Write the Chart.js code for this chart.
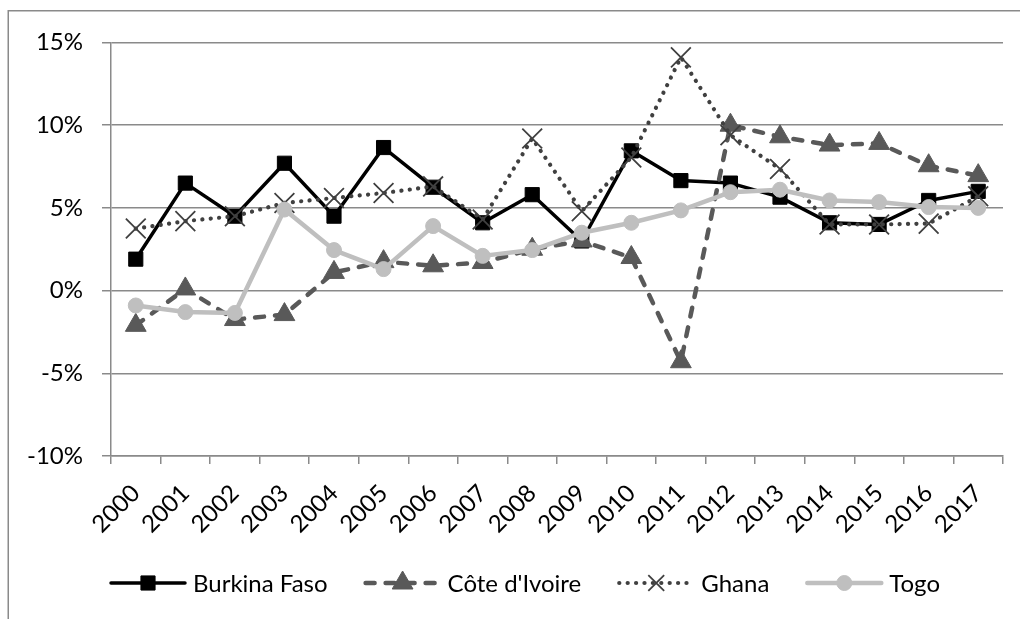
<!DOCTYPE html>
<html><head><meta charset="utf-8">
<script src="https://cdn.jsdelivr.net/npm/chart.js@4/dist/chart.umd.min.js"></script>
<style>html,body{margin:0;padding:0;background:#fff;overflow:hidden}canvas{display:block}</style>
</head><body>
<canvas id="c" width="1020" height="619"></canvas>
<script>
const categories = ['2000','2001','2002','2003','2004','2005','2006','2007','2008','2009','2010','2011','2012','2013','2014','2015','2016','2017'];
const burkinaFaso = [1.9,6.5,4.5,7.7,4.5,8.65,6.25,4.1,5.8,3.0,8.45,6.65,6.5,5.65,4.1,4.0,5.45,6.0];
const coteDIvoire = [-2.1,0.1,-1.75,-1.45,1.1,1.75,1.5,1.7,2.5,3.0,2.0,-4.3,10.0,9.3,8.8,8.9,7.55,6.95];
const ghana = [3.75,4.2,4.5,5.3,5.6,5.9,6.3,4.3,9.2,4.8,8.05,14.1,9.4,7.35,4.0,4.0,4.05,5.7];
const togo = [-0.9,-1.3,-1.35,4.9,2.45,1.3,3.9,2.1,2.45,3.5,4.1,4.85,5.95,6.1,5.45,5.35,5.05,5.0];
const yTicks = [-10,-5,0,5,10,15];
const seriesNames = ['Burkina Faso', "Côte d'Ivoire", 'Ghana', 'Togo'];

const FONT = 'Lato, "Open Sans", sans-serif';
const GRID = '#8a8a8a';

function drawMarker(ctx, ds, x, y) {
  const r = ds.pointRadius;
  ctx.save();
  ctx.fillStyle = ds.pointBackgroundColor;
  ctx.strokeStyle = ds.pointBorderColor;
  ctx.lineWidth = ds.pointBorderWidth;
  ctx.setLineDash([]);
  ctx.lineCap = 'butt';
  ctx.beginPath();
  if (ds.pointStyle === 'rect') {
    const s = Math.SQRT1_2 * r;
    ctx.rect(x - s, y - s, 2 * s, 2 * s);
    ctx.fill(); ctx.stroke();
  } else if (ds.pointStyle === 'triangle') {
    let a = 0;
    ctx.moveTo(x + Math.sin(a) * r, y - Math.cos(a) * r);
    a += 2 * Math.PI / 3;
    ctx.lineTo(x + Math.sin(a) * r, y - Math.cos(a) * r);
    a += 2 * Math.PI / 3;
    ctx.lineTo(x + Math.sin(a) * r, y - Math.cos(a) * r);
    ctx.closePath();
    ctx.fill(); ctx.stroke();
  } else if (ds.pointStyle === 'circle') {
    ctx.arc(x, y, r, 0, Math.PI * 2);
    ctx.fill(); ctx.stroke();
  } else if (ds.pointStyle === 'crossRot') {
    const o = Math.SQRT1_2 * r * 0.8;
    ctx.moveTo(x - o, y - o); ctx.lineTo(x + o, y + o);
    ctx.moveTo(x - o, y + o); ctx.lineTo(x + o, y - o);
    ctx.stroke();
  }
  ctx.restore();
}

const framePlugin = {
  id: 'frame',
  beforeDraw(chart) {
    const ctx = chart.ctx;
    ctx.save();
    ctx.strokeStyle = GRID;
    ctx.lineWidth = 1.5;
    ctx.beginPath();
    ctx.moveTo(8.25, 619);
    ctx.lineTo(8.25, 10.75);
    ctx.lineTo(1020, 10.75);
    ctx.stroke();
    ctx.restore();
  }
};

const legendPlugin = {
  id: 'customLegend',
  afterDraw(chart) {
    const ctx = chart.ctx;
    ctx.save();
    ctx.font = '24px ' + FONT;
    const dsets = chart.data.datasets;
    const lineLen = 74, gapText = 8, gapItem = 38;
    const widths = dsets.map(d => ctx.measureText(d.label).width);
    const total = widths.reduce((s, w) => s + lineLen + gapText + w, 0) + gapItem * (dsets.length - 1);
    let x = 525.5 - total / 2;
    const y = 583;
    dsets.forEach((ds, i) => {
      ctx.save();
      ctx.strokeStyle = ds.borderColor;
      ctx.lineWidth = ds.borderWidth;
      ctx.lineCap = ds.borderCapStyle || 'butt';
      ctx.setLineDash(ds.borderDash || []);
      ctx.beginPath();
      ctx.moveTo(x, y); ctx.lineTo(x + lineLen, y);
      ctx.stroke();
      ctx.restore();
      drawMarker(ctx, ds, x + lineLen / 2, y);
      ctx.fillStyle = '#000';
      ctx.textBaseline = 'middle';
      ctx.textAlign = 'left';
      ctx.fillText(ds.label, x + lineLen + gapText, y + 1);
      x += lineLen + gapText + widths[i] + gapItem;
    });
    ctx.restore();
  }
};

Chart.defaults.font.family = FONT;
Chart.defaults.font.size = 24;
Chart.defaults.color = '#000';

new Chart(document.getElementById('c'), {
  type: 'line',
  data: {
    labels: categories,
    datasets: [
      { label: seriesNames[0], data: burkinaFaso, order: 4,
        borderColor: '#000', borderWidth: 3.5, borderCapStyle: 'round', borderJoinStyle: 'round',
        pointStyle: 'rect', pointRadius: 10, pointBackgroundColor: '#000', pointBorderColor: '#000', pointBorderWidth: 1 },
      { label: seriesNames[1], data: coteDIvoire, order: 3,
        borderColor: '#595959', borderWidth: 4.5, borderDash: [9, 11], borderCapStyle: 'round', borderJoinStyle: 'round',
        pointStyle: 'triangle', pointRadius: 12, pointBackgroundColor: '#595959', pointBorderColor: '#595959', pointBorderWidth: 1 },
      { label: seriesNames[2], data: ghana, order: 2,
        borderColor: '#404040', borderWidth: 4.2, borderDash: [0.1, 8.3], borderCapStyle: 'round', borderJoinStyle: 'round',
        pointStyle: 'crossRot', pointRadius: 14, pointBackgroundColor: '#404040', pointBorderColor: '#404040', pointBorderWidth: 1.8 },
      { label: seriesNames[3], data: togo, order: 1,
        borderColor: '#bfbfbf', borderWidth: 4.5, borderCapStyle: 'round', borderJoinStyle: 'round',
        pointStyle: 'circle', pointRadius: 7.5, pointBackgroundColor: '#bfbfbf', pointBorderColor: '#bfbfbf', pointBorderWidth: 1 }
    ]
  },
  options: {
    responsive: false,
    animation: false,
    devicePixelRatio: 1,
    events: [],
    layout: { padding: { left: 0, top: 42.5, right: 17, bottom: 0 } },
    plugins: { legend: { display: false }, tooltip: { enabled: false } },
    elements: { line: { tension: 0 } },
    scales: {
      x: {
        offset: true,
        grid: { display: true, drawOnChartArea: false, drawTicks: true, tickLength: 8, color: GRID, lineWidth: 1.5, offset: true },
        border: { display: true, color: GRID, width: 1.5 },
        ticks: { autoSkip: false, minRotation: 45, maxRotation: 45, padding: 15, font: { size: 24 }, color: '#000' },
        afterFit(scale) { scale.height = 163; }
      },
      y: {
        min: -10, max: 15,
        afterBuildTicks(scale) { scale.ticks = yTicks.map(v => ({ value: v })); },
        grid: { color: GRID, lineWidth: 1.5, tickLength: 9, drawTicks: true },
        border: { display: true, color: GRID, width: 1.5 },
        ticks: { padding: 19, font: { size: 24 }, color: '#000', callback: v => v + '%' },
        afterFit(scale) { scale.width = 111; }
      }
    }
  },
  plugins: [framePlugin, legendPlugin]
});
</script>
</body></html>
